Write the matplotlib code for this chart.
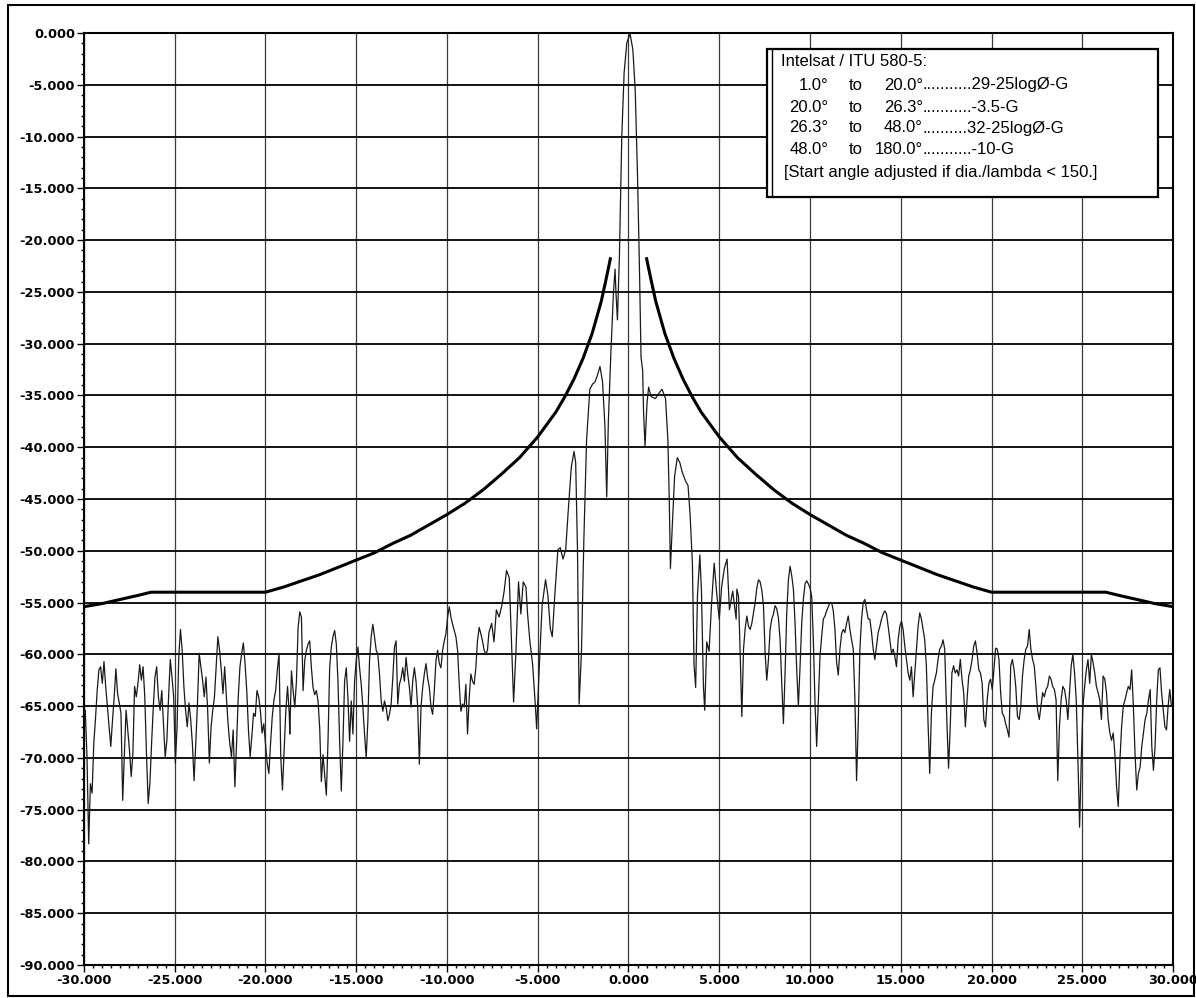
import numpy as np
import matplotlib.pyplot as plt
from matplotlib.ticker import MultipleLocator, FormatStrFormatter
from matplotlib.patches import Rectangle

# measured pattern, stored as sweeps (start angle, stop angle, levels in dB)
sweep_a_start, sweep_a_stop = -30.02, -18.69
sweep_a_db = [-65.7, -65.4, -69.9, -78.3, -72.5, -73.4, -68.6, -66.2, -63.5, -61.5,
              -61.2, -62.8, -60.7, -63.1, -65.1, -67.0, -68.9, -66.4, -64.1, -61.4,
              -63.8, -64.7, -65.7, -74.1, -69.6, -65.4, -67.3, -69.3, -71.8, -69.6,
              -63.1, -64.1, -62.8, -61.0, -62.5, -61.2, -64.1, -69.6, -74.4, -72.5,
              -68.6, -65.1, -62.2, -61.2, -64.1, -65.4, -63.5, -66.7, -69.9, -68.3,
              -64.1, -60.5, -62.2, -64.1, -70.5, -67.0, -60.2, -57.6, -59.6, -63.1,
              -65.4, -67.0, -64.7, -66.3, -68.6, -72.2, -68.6, -64.7, -59.9, -61.2,
              -62.5, -64.1, -62.2, -65.4, -70.5, -67.0, -65.4, -64.1, -61.2, -58.3,
              -59.6, -61.5, -63.8, -61.2, -64.1, -66.7, -68.6, -69.9, -67.3, -72.8,
              -68.6, -64.1, -61.2, -59.9, -58.9, -60.9, -63.5, -67.3, -69.9, -67.9,
              -65.7, -66.0, -63.5, -64.1, -65.4, -67.6, -66.7, -68.6, -70.5, -71.5,
              -68.6, -66.0, -64.4, -63.5, -61.5, -59.9, -69.9, -73.1, -69.3, -65.4,
              -63.1, -65.7]

sweep_b_start, sweep_b_stop = -18.66, -7.77
sweep_b_db = [-67.7, -61.6, -63.5, -65.1, -62.6, -57.4, -55.9, -56.4, -63.5, -60.6,
              -59.6, -59.0, -58.7, -61.3, -63.2, -63.9, -63.5, -64.5, -67.1, -72.3,
              -69.7, -71.6, -73.6, -68.4, -61.3, -59.3, -58.3, -57.7, -59.0, -62.6,
              -68.4, -73.2, -68.4, -62.6, -61.3, -64.2, -68.4, -64.5, -67.7, -62.6,
              -60.6, -59.3, -61.3, -62.9, -65.1, -67.7, -70.0, -66.4, -60.6, -58.3,
              -57.1, -58.3, -59.6, -60.0, -61.9, -64.5, -65.5, -64.5, -65.1, -66.4,
              -65.8, -64.8, -62.3, -59.3, -58.7, -64.8, -62.9, -62.3, -61.3, -62.6,
              -60.3, -61.9, -63.2, -65.1, -62.6, -61.3, -62.6, -65.1, -70.6, -65.1,
              -63.2, -61.9, -60.9, -62.3, -63.2, -65.1, -65.8, -63.5, -60.6, -59.6,
              -60.9, -61.3, -59.6, -58.7, -58.0, -56.4, -55.4, -56.4, -57.1, -57.7,
              -58.3, -59.6, -62.9, -65.5, -64.8, -65.1, -62.9, -67.7, -64.2, -61.9,
              -62.6, -62.9, -61.3, -58.7, -57.4, -58.0, -58.7, -59.6, -60.0, -59.6]

# main beam and near sidelobes, irregular angles
center_deg = [-7.69, -7.54, -7.41, -7.28, -7.13, -6.98, -6.85, -6.72, -6.57, -6.43,
              -6.33, -6.20, -6.06, -5.93, -5.80, -5.65, -5.56, -5.43, -5.28, -5.13,
              -5.06, -4.91, -4.76, -4.57, -4.44, -4.31, -4.20, -4.06, -3.89, -3.76,
              -3.61, -3.46, -3.33, -3.15, -3.00, -2.91, -2.81, -2.72, -2.59, -2.46,
              -2.31, -2.13, -1.98, -1.85, -1.72, -1.57, -1.43, -1.30, -1.20, -1.11,
              -0.98, -0.83, -0.74, -0.69, -0.61, -0.50, -0.37, -0.24, -0.09, 0.09,
              0.24, 0.37, 0.50, 0.61, 0.69, 0.78, 0.83, 0.91, 1.02, 1.11,
              1.24, 1.48, 1.67, 1.85, 2.04, 2.17, 2.24, 2.31, 2.41, 2.54,
              2.69, 2.83, 2.96, 3.15, 3.28, 3.39, 3.52, 3.61, 3.70, 3.80,
              3.93, 4.02, 4.13, 4.20, 4.31, 4.44, 4.57, 4.72, 4.87, 5.00,
              5.13, 5.28, 5.43, 5.56, 5.74, 5.93]
center_db = [-57.9, -57.0, -58.8, -55.7, -56.4, -55.3, -53.9, -51.9, -52.6, -59.7,
             -64.6, -59.7, -53.0, -56.1, -53.0, -53.5, -56.1, -58.8, -61.0, -65.0,
             -67.2, -61.0, -55.3, -52.8, -54.3, -57.5, -58.3, -54.3, -49.9, -49.7,
             -50.8, -49.9, -46.4, -41.9, -40.4, -41.5, -49.9, -64.8, -59.7, -49.0,
             -39.3, -34.4, -33.9, -33.7, -33.1, -32.2, -33.7, -37.9, -44.8, -37.5,
             -31.3, -25.1, -22.8, -25.1, -27.7, -21.5, -10.0, -3.8, -0.9, -0.1,
             -1.6, -5.5, -14.0, -23.3, -31.3, -32.6, -36.6, -39.9, -35.7, -34.2,
             -35.1, -35.3, -34.8, -34.4, -35.3, -39.3, -44.6, -51.7, -47.7, -42.8,
             -41.0, -41.5, -42.4, -43.3, -43.7, -46.4, -51.2, -61.0, -63.2, -54.3,
             -50.4, -53.9, -63.2, -65.4, -58.8, -59.7, -55.3, -51.2, -54.3, -56.6,
             -53.5, -51.7, -50.8, -55.7, -53.9, -56.6]

sweep_d_start, sweep_d_stop = 5.97, 17.42
sweep_d_db = [-53.7, -54.4, -60.0, -66.0, -59.5, -57.5, -56.3, -57.3, -57.6, -57.0,
              -56.0, -55.0, -53.6, -52.8, -53.0, -53.8, -55.3, -59.9, -62.5, -60.5,
              -57.6, -56.6, -56.1, -55.3, -55.6, -56.5, -58.6, -62.8, -66.7, -61.8,
              -56.0, -52.8, -51.5, -52.4, -53.7, -57.0, -61.5, -65.0, -61.2, -57.0,
              -54.7, -53.2, -52.9, -53.2, -53.6, -54.4, -58.6, -64.7, -68.9, -64.4,
              -60.2, -58.3, -56.6, -56.3, -55.8, -55.4, -55.0, -55.0, -55.8, -57.6,
              -60.8, -62.0, -59.5, -58.0, -57.6, -57.9, -57.0, -56.3, -57.6, -58.6,
              -59.5, -64.4, -72.2, -66.7, -59.5, -56.6, -55.0, -54.7, -55.7, -56.6,
              -56.6, -57.9, -59.5, -60.5, -59.2, -57.9, -57.3, -56.6, -56.1, -55.8,
              -56.1, -57.3, -58.6, -59.9, -59.5, -60.2, -61.2, -58.6, -57.3, -56.8,
              -57.6, -59.2, -60.5, -61.8, -62.5, -61.2, -64.1, -61.8, -59.5, -57.3,
              -56.0, -56.6, -57.6, -58.6, -61.2, -66.7, -71.5, -65.7, -63.1, -62.5,
              -61.8, -60.5, -59.5, -59.2, -58.6, -59.5]

sweep_e_start, sweep_e_stop = 17.54, 28.74
sweep_e_db = [-66.5, -71.0, -67.0, -61.8, -61.1, -61.8, -61.5, -62.1, -60.5, -62.4,
              -63.7, -67.0, -64.4, -62.1, -61.5, -60.5, -59.2, -58.7, -59.9, -61.5,
              -61.8, -62.8, -66.3, -67.0, -64.4, -62.8, -62.4, -63.4, -61.5, -59.4,
              -59.5, -60.5, -63.7, -65.7, -66.0, -66.7, -67.3, -68.0, -61.1, -60.5,
              -61.5, -63.1, -66.0, -66.3, -65.0, -62.1, -60.5, -59.5, -59.2, -57.6,
              -59.5, -60.5, -61.1, -63.1, -65.4, -66.3, -65.0, -63.7, -64.1, -63.4,
              -63.1, -62.1, -62.4, -63.1, -63.4, -64.4, -72.2, -67.0, -64.4, -63.1,
              -63.4, -64.4, -66.3, -63.7, -61.1, -60.0, -61.8, -64.4, -70.2, -76.7,
              -70.2, -65.0, -63.1, -61.5, -60.5, -62.8, -60.0, -60.8, -61.8, -63.1,
              -63.7, -64.4, -66.3, -62.1, -62.4, -63.7, -66.3, -67.6, -68.3, -67.6,
              -69.6, -72.8, -74.7, -70.2, -67.0, -65.0, -64.4, -63.7, -63.1, -63.4,
              -61.5, -65.0, -69.6, -73.1, -71.5, -70.9, -68.9, -67.6, -66.3, -65.7,
              -64.4, -63.4]

sweep_f_start, sweep_f_stop = 28.83, 29.91
sweep_f_db = [-68.9, -71.2, -68.9, -64.4, -61.5, -61.3, -63.7, -65.4, -67.0, -67.3,
              -65.0, -63.4, -65.0]

# Intelsat / ITU 580-5 mask, one side (mirrored for negative angles)
mask_theta = [1.0, 1.25, 1.5, 2.0, 2.5, 3.0, 3.5, 4.0, 5.0, 6.0, 7.0, 8.0, 9.0, 10.0,
              11.0, 12.0, 13.0, 14.0, 15.0, 16.0, 17.0, 18.0, 19.0, 20.0, 26.3,
              27.0, 28.0, 29.0, 30.0]
mask_db = [-21.8, -23.9, -25.9, -29.0, -31.4, -33.4, -35.1, -36.6, -39.0, -41.0,
           -42.6, -44.1, -45.4, -46.5, -47.5, -48.5, -49.3, -50.2, -50.9, -51.6,
           -52.3, -52.9, -53.5, -54.0, -54.0, -54.3, -54.7, -55.1, -55.4]

legend_title = "Intelsat / ITU 580-5:"
legend_from = ["1.0°", "20.0°", "26.3°", "48.0°"]
legend_to = ["20.0°", "26.3°", "48.0°", "180.0°"]
legend_rule = ["...........29-25logØ-G", "...........-3.5-G",
               "..........32-25logØ-G", "...........-10-G"]
legend_note = "[Start angle adjusted if dia./lambda < 150.]"

plt.rcParams['axes.unicode_minus'] = False

W, H = 1196, 998


def px(x, y):
    return x / W, 1 - y / H


angles = np.concatenate([
    np.linspace(sweep_a_start, sweep_a_stop, len(sweep_a_db)),
    np.linspace(sweep_b_start, sweep_b_stop, len(sweep_b_db)),
    np.array(center_deg),
    np.linspace(sweep_d_start, sweep_d_stop, len(sweep_d_db)),
    np.linspace(sweep_e_start, sweep_e_stop, len(sweep_e_db)),
    np.linspace(sweep_f_start, sweep_f_stop, len(sweep_f_db)),
])
levels = np.concatenate([sweep_a_db, sweep_b_db, center_db, sweep_d_db,
                         sweep_e_db, sweep_f_db])

fig = plt.figure(figsize=(W / 100, H / 100), dpi=100)
ax = fig.add_axes([0.0702, 0.0331, 0.9106, 0.9338])

ax.plot(angles, levels, color='#1a1a1a', linewidth=0.9, zorder=3)
mt = np.array(mask_theta)
ax.plot(mt, mask_db, color='k', linewidth=2.2, zorder=4)
ax.plot(-mt, mask_db, color='k', linewidth=2.2, zorder=4)

ax.set_xlim(-30, 30)
ax.set_ylim(-90, 0)
ax.xaxis.set_major_locator(MultipleLocator(5))
ax.xaxis.set_minor_locator(MultipleLocator(0.5))
ax.yaxis.set_major_locator(MultipleLocator(5))
ax.yaxis.set_minor_locator(MultipleLocator(1))
ax.xaxis.set_major_formatter(FormatStrFormatter('%.3f'))
ax.yaxis.set_major_formatter(FormatStrFormatter('%.3f'))

ax.set_axisbelow(True)
ax.yaxis.grid(True, color='k', linewidth=1.3)
ax.xaxis.grid(True, color='#3a3a3a', linewidth=0.9)

ax.tick_params(which='major', direction='out', length=5, width=1.0, pad=1.5,
               labelsize=9.3, colors='k')
ax.tick_params(which='minor', direction='out', length=2.5, width=1.0)
for lab in ax.get_xticklabels() + ax.get_yticklabels():
    lab.set_fontweight('bold')
    lab.set_family('DejaVu Sans')
for sp in ax.spines.values():
    sp.set_linewidth(1.5)

# legend box
bx0, by0 = px(767, 197)
bx1, by1 = px(1158, 49)
fig.patches.append(Rectangle((bx0, by0), bx1 - bx0, by1 - by0, transform=fig.transFigure,
                             facecolor='white', edgecolor='k', linewidth=1.6, zorder=5))
fig.lines.append(plt.Line2D([px(772, 0)[0]] * 2, [by0, by1], transform=fig.transFigure,
                            color='k', linewidth=1.0, zorder=6))

font = {'family': 'Liberation Sans', 'size': 12}
fig.text(*px(781, 62), legend_title, va='center', ha='left', zorder=7, **font)
rows_y = [85, 107, 128, 150]
for i in range(len(legend_from)):
    fig.text(*px(828, rows_y[i]), legend_from[i], va='center', ha='right', zorder=7, **font)
    fig.text(*px(849, rows_y[i]), "to", va='center', ha='left', zorder=7, **font)
    fig.text(*px(923, rows_y[i]), legend_to[i], va='center', ha='right', zorder=7, **font)
    fig.text(*px(923, rows_y[i]), legend_rule[i], va='center', ha='left', zorder=7, **font)
fig.text(*px(784, 172), legend_note, va='center', ha='left', zorder=7, **font)

# page border
fx0, fy0 = px(8, 996)
fx1, fy1 = px(1194, 5)
fig.patches.append(Rectangle((fx0, fy0), fx1 - fx0, fy1 - fy0, transform=fig.transFigure,
                             facecolor='none', edgecolor='k', linewidth=1.5))

plt.savefig("out.png", dpi=100)
